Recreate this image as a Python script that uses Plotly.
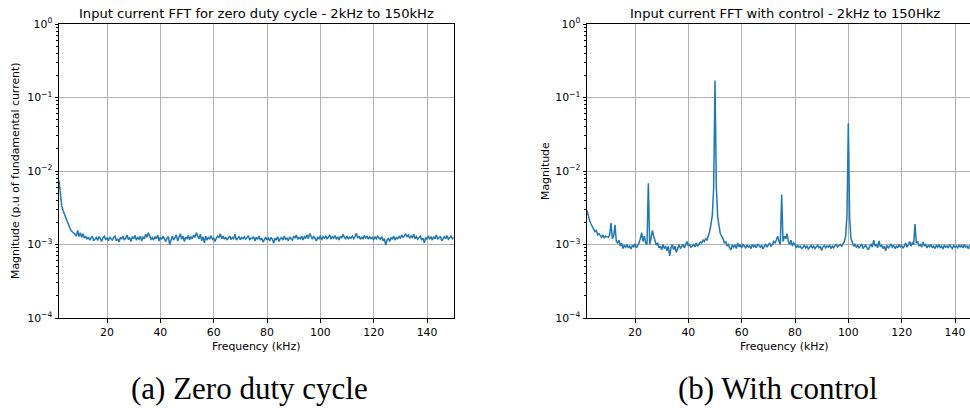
import numpy as np
import plotly.graph_objects as go
from plotly.subplots import make_subplots

# FFT bin centres, kHz
freq_khz = np.arange(2.0, 150.0001, 0.5)

# Magnitude in units of 1e-3 p.u., zero duty cycle (2.0 .. 150.0 kHz, 0.5 kHz bins)
zero_duty_mag_e3 = [
    7.4, 4.6, 3.4, 2.9, 2.6, 2.3, 2.0, 1.85, 1.7, 1.55, 1.5, 1.42, 1.38, 1.3, 1.55, 1.28, 1.45, 1.25, 1.4, 1.22,
    1.3, 1.18, 1.26, 1.15, 1.22, 1.3, 1.12, 1.2, 1.25, 1.14, 1.28, 1.2, 1.1, 1.24, 1.3, 1.17, 1.22, 1.12, 1.27, 1.2,
    1.15, 1.25, 1.3, 1.12, 1.2, 1.08, 1.26, 1.18, 1.3, 1.15, 1.22, 1.35, 1.17, 1.25, 1.1, 1.28, 1.2, 1.33, 1.15, 1.24,
    1.18, 1.3, 1.12, 1.26, 1.2, 1.38, 1.25, 1.45, 1.3, 1.18, 1.24, 1.15, 1.28, 1.2, 1.35, 1.12, 1.25, 1.18, 1.3, 1.2,
    1.1, 1.22, 1.28, 1.0, 1.2, 1.3, 1.15, 1.25, 1.35, 1.12, 1.22, 1.4, 1.18, 1.3, 1.1, 1.26, 1.2, 1.33, 1.15, 1.28,
    1.2, 1.35, 1.25, 1.45, 1.3, 1.2, 1.38, 1.12, 1.28, 1.05, 1.3, 1.15, 1.25, 1.2, 1.32, 1.18, 1.24, 1.1, 1.22, 1.3,
    1.25, 1.4, 1.2, 1.3, 1.18, 1.26, 1.15, 1.22, 1.3, 1.17, 1.25, 1.2, 1.38, 1.15, 1.22, 1.28, 1.16, 1.24, 1.2, 1.27,
    1.18, 1.25, 1.32, 1.15, 1.22, 1.2, 1.28, 1.12, 1.25, 1.18, 1.3, 1.15, 1.22, 1.08, 1.2, 1.26, 1.15, 1.22, 1.12, 1.25,
    1.18, 1.05, 1.22, 1.15, 1.28, 1.1, 1.2, 1.25, 1.15, 1.3, 1.18, 1.22, 1.12, 1.27, 1.2, 1.15, 1.3, 1.22, 1.35, 1.18,
    1.25, 1.2, 1.3, 1.15, 1.28, 1.22, 1.35, 1.2, 1.42, 1.28, 1.18, 1.3, 1.22, 1.12, 1.25, 1.2, 1.32, 1.15, 1.27, 1.22,
    1.3, 1.2, 1.25, 1.35, 1.18, 1.28, 1.22, 1.32, 1.2, 1.27, 1.15, 1.3, 1.22, 1.38, 1.25, 1.2, 1.3, 1.18, 1.26, 1.22,
    1.3, 1.2, 1.28, 1.42, 1.22, 1.3, 1.18, 1.25, 1.2, 1.32, 1.22, 1.3, 1.18, 1.27, 1.2, 1.25, 1.15, 1.28, 1.2, 1.3,
    1.22, 1.18, 1.28, 1.12, 1.2, 0.98, 1.15, 1.22, 1.1, 1.25, 1.18, 1.3, 1.15, 1.24, 1.2, 1.28, 1.22, 1.35, 1.25, 1.3,
    1.4, 1.28, 1.35, 1.22, 1.3, 1.25, 1.38, 1.2, 1.28, 1.18, 1.25, 1.3, 1.15, 1.22, 1.05, 1.25, 1.18, 1.3, 1.2, 1.26,
    1.15, 1.28, 1.2, 1.35, 1.18, 1.25, 1.3, 1.12, 1.22, 1.28, 1.2, 1.32, 1.18, 1.25, 1.3, 1.2, 1.26,
]

# Magnitude in units of 1e-3, with control (same bins)
control_mag_e3 = [
    2.9, 2.4, 2.1, 1.9, 1.75, 1.6, 1.5, 1.55, 1.35, 1.4, 1.3, 1.25, 1.35, 1.22, 1.3, 1.28, 1.25, 1.35, 1.95, 1.2,
    1.3, 1.85, 1.1, 1.05, 1.15, 0.95, 1.05, 0.88, 0.98, 0.92, 1.0, 0.9, 0.95, 0.87, 0.98, 0.93, 1.02, 0.9, 0.97, 1.05,
    1.2, 1.45, 1.1, 1.3, 1.05, 1.0, 6.8, 1.0, 1.2, 1.55, 1.3, 1.1, 0.98, 1.05, 0.9, 0.95, 0.85, 1.0, 0.88, 0.95,
    0.82, 0.95, 0.7, 0.9, 1.0, 0.85, 0.95, 0.78, 0.92, 1.0, 0.88, 0.95, 1.0, 0.9, 0.98, 1.1, 0.95, 1.0, 0.92, 0.97,
    1.0, 0.93, 1.05, 0.95, 1.0, 1.08, 1.05, 1.15, 1.1, 1.2, 1.15, 1.3, 1.5, 1.9, 2.5, 6.0, 170.0, 6.0, 2.4, 1.8,
    1.4, 1.3, 1.2, 1.05, 1.1, 0.95, 1.0, 0.9, 0.85, 1.0, 0.92, 0.97, 0.88, 1.05, 0.93, 0.98, 0.9, 1.0, 0.95, 0.9,
    0.98, 0.92, 0.96, 0.88, 1.0, 0.93, 0.97, 0.9, 1.02, 0.95, 0.92, 0.98, 0.87, 0.95, 1.0, 0.92, 0.98, 1.05, 0.95, 1.0,
    1.1, 1.05, 1.15, 1.3, 1.1, 1.0, 4.8, 1.1, 1.3, 1.2, 1.4, 1.1, 1.0, 1.15, 0.95, 1.05, 1.0, 0.9, 0.98, 0.92,
    0.95, 0.88, 0.92, 0.98, 0.9, 0.95, 0.87, 0.93, 0.97, 0.9, 0.95, 0.88, 0.92, 0.98, 0.9, 0.95, 0.83, 0.93, 0.97, 0.9,
    0.95, 0.92, 0.98, 0.88, 0.95, 0.9, 0.97, 1.0, 0.93, 0.98, 1.0, 0.95, 1.05, 1.1, 1.3, 2.5, 44.6, 2.2, 1.2, 1.05,
    0.95, 1.0, 0.92, 0.97, 0.9, 0.95, 1.02, 0.88, 0.95, 0.98, 0.9, 0.85, 0.95, 1.0, 0.92, 1.15, 0.95, 1.0, 0.9, 1.12,
    0.93, 0.98, 0.88, 0.95, 0.82, 0.97, 0.9, 0.95, 1.0, 0.92, 0.97, 0.88, 0.95, 0.9, 1.0, 0.93, 0.97, 0.9, 0.95, 1.05,
    0.92, 1.0, 1.1, 0.95, 1.05, 1.0, 1.9, 1.05, 1.1, 0.95, 1.0, 0.92, 1.08, 0.95, 1.0, 0.9, 0.97, 0.93, 1.0, 0.9,
    0.95, 0.88, 0.97, 0.92, 1.0, 0.9, 0.95, 0.87, 0.98, 0.92, 0.95, 0.9, 1.0, 0.93, 0.88, 0.97, 0.92, 0.95, 0.9, 0.98,
    0.93, 0.97, 0.9, 1.0, 0.92, 0.95, 0.88, 0.97, 0.93, 0.9, 0.95, 0.98, 0.92, 0.95, 0.9, 0.97, 0.93,
]

x_ticks = [20, 40, 60, 80, 100, 120, 140]
y_ticks = [1e-4, 1e-3, 1e-2, 1e-1, 1]
y_tick_text = ["10<sup>−4</sup>", "10<sup>−3</sup>", "10<sup>−2</sup>", "10<sup>−1</sup>", "10<sup>0</sup>"]
y_minor = [m * 10.0 ** e for e in range(-4, 0) for m in range(2, 10)]

W, H = 970, 408
LINE = "#1f77b4"
GRID = "#b0b0b0"
SANS = "DejaVu Sans"
SERIF = "Liberation Serif"
LABEL_SIZE = 10.9
TITLE_SIZE = 13.1

fig = make_subplots(rows=1, cols=2)

fig.add_trace(go.Scatter(x=freq_khz, y=np.array(zero_duty_mag_e3) * 1e-3, mode="lines",
                         line=dict(color=LINE, width=1.5), showlegend=False), row=1, col=1)
fig.add_trace(go.Scatter(x=freq_khz, y=np.array(control_mag_e3) * 1e-3, mode="lines",
                         line=dict(color=LINE, width=1.5), showlegend=False), row=1, col=2)

ydom = [1 - 318 / H, 1 - 24 / H]
x_common = dict(tickvals=x_ticks, ticks="outside", ticklen=3.5, tickwidth=0.8, tickcolor="black",
                showgrid=True, gridcolor=GRID, gridwidth=0.8, showline=True, linecolor="black",
                linewidth=1, zeroline=False, automargin=False,
                tickfont=dict(family=SANS, size=LABEL_SIZE, color="black"))
y_common = dict(type="log", range=[-4, 0], tickvals=y_ticks, ticktext=y_tick_text,
                ticks="outside", ticklen=3.5, tickwidth=0.8, tickcolor="black",
                showgrid=True, gridcolor=GRID, gridwidth=0.8, showline=True, linecolor="black",
                linewidth=1, zeroline=False, domain=ydom, automargin=False,
                tickfont=dict(family=SANS, size=LABEL_SIZE, color="black"),
                minor=dict(tickvals=y_minor, ticks="outside", ticklen=2, tickwidth=0.6,
                           tickcolor="black", showgrid=False))

fig.update_xaxes(**x_common, range=[2, 150], domain=[59 / W, 453.7 / W], mirror=True, row=1, col=1)
fig.update_xaxes(**x_common, range=[2, 2 + (W - 587) / (320 / 120)], domain=[587 / W, 1.0],
                 mirror=True, row=1, col=2)
fig.update_yaxes(**y_common, mirror=True, row=1, col=1)
fig.update_yaxes(**y_common, mirror=False, row=1, col=2)


def px(x, y):
    return x / W, 1 - y / H


annotations = []


def label(text, x, y, size, family=SANS, angle=0):
    ax, ay = px(x, y)
    annotations.append(dict(text=text, x=ax, y=ay, xref="paper", yref="paper",
                            xanchor="center", yanchor="middle", showarrow=False,
                            textangle=angle, font=dict(family=family, size=size, color="black")))


label("Input current FFT for zero duty cycle - 2kHz to 150kHz", 256.5, 14, TITLE_SIZE)
label("Input current FFT with control - 2kHz to 150Hkz", 784.5, 14, TITLE_SIZE)
label("Frequency (kHz)", 256, 346, LABEL_SIZE)
label("Frequency (kHz)", 784, 346, LABEL_SIZE)
label("Magnitude (p.u of fundamental current)", 15, 171, LABEL_SIZE, angle=-90)
label("Magnitude", 545, 171, LABEL_SIZE, angle=-90)
label("(a) Zero duty cycle", 250, 388, 31, family=SERIF)
label("(b) With control", 778, 388, 31, family=SERIF)

fig.update_layout(width=W, height=H, margin=dict(l=0, r=0, t=0, b=0, autoexpand=False),
                  paper_bgcolor="white", plot_bgcolor="white",
                  annotations=annotations, showlegend=False)

fig.write_html("out.html")
